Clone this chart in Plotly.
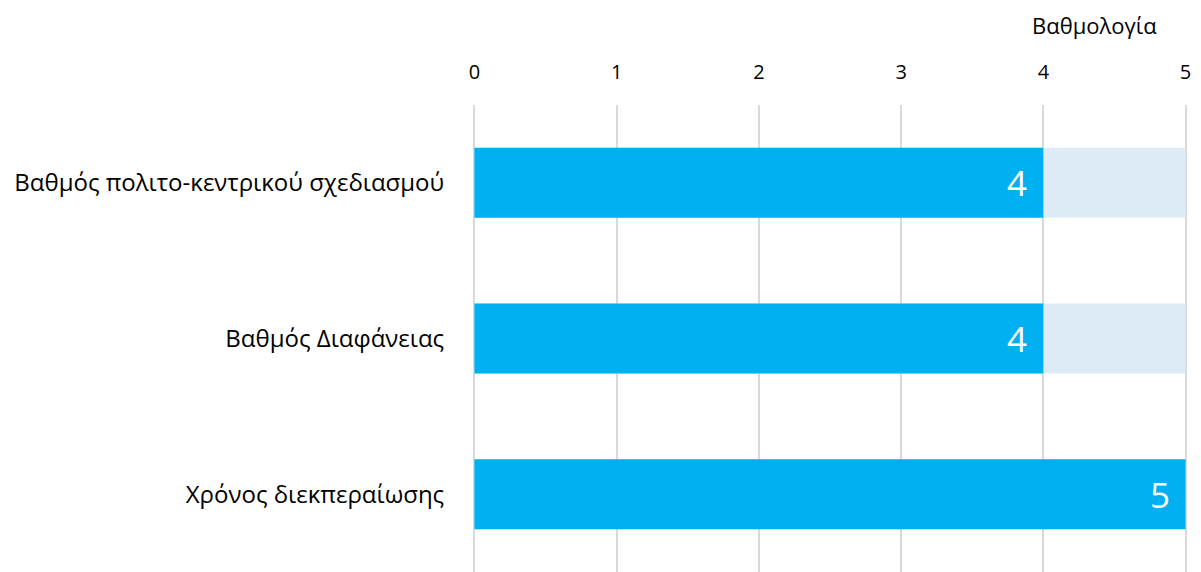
import plotly.graph_objects as go

categories = ["Βαθμός πολιτο-κεντρικού σχεδιασμού", "Βαθμός Διαφάνειας", "Χρόνος διεκπεραίωσης"]
scores = [4, 4, 5]
max_score = [5, 5, 5]
tick_vals = [0, 1, 2, 3, 4, 5]
axis_title = "Βαθμολογία"

FONT = "Open Sans"

fig = go.Figure()
fig.add_trace(go.Bar(
    y=categories, x=max_score, orientation="h",
    marker=dict(color="#DDEBF7", line=dict(width=0)),
    width=0.45, hoverinfo="skip", showlegend=False,
))
fig.add_trace(go.Bar(
    y=categories, x=scores, orientation="h",
    marker=dict(color="#00B0F0", line=dict(width=0)),
    width=0.45, showlegend=False,
))

for c, v in zip(categories, scores):
    fig.add_annotation(
        x=v, y=c, xref="x", yref="y", text=str(v), showarrow=False,
        xanchor="right", xshift=-14,
        font=dict(family=FONT, size=35, color="white"),
    )

fig.add_annotation(
    x=4.36, y=1.171, xref="x", yref="paper", text=axis_title, showarrow=False,
    xanchor="center", yanchor="middle",
    font=dict(family=FONT, size=22, color="#000000"),
)

fig.update_layout(
    width=1201, height=572,
    margin=dict(l=473, r=14, t=105, b=0),
    barmode="overlay",
    plot_bgcolor="white", paper_bgcolor="white",
    font=dict(family=FONT, color="#000000"),
)
fig.update_xaxes(
    side="top", range=[-0.01, 5.01], tickvals=tick_vals,
    showgrid=True, gridcolor="#D9D9D9", gridwidth=2,
    zeroline=False, showline=False,
    ticks="outside", ticklen=17, tickcolor="rgba(0,0,0,0)",
    tickfont=dict(family=FONT, size=20, color="#000000"),
    fixedrange=True,
)
fig.update_yaxes(
    autorange="reversed", showgrid=False, zeroline=False, showline=False,
    ticks="outside", ticklen=23, tickcolor="rgba(0,0,0,0)",
    tickfont=dict(family=FONT, size=24, color="#000000"),
    fixedrange=True,
)

fig.write_html("out.html", config={"displayModeBar": False})
